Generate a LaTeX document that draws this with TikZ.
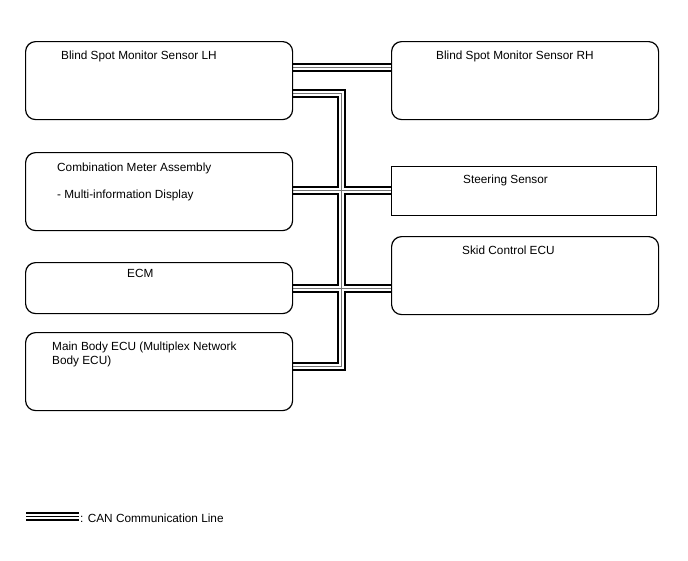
\documentclass[tikz,border=0pt]{standalone}
\usepackage{fontspec}
\setmainfont{Liberation Sans}
\usetikzlibrary{backgrounds}
\tikzset{
  x=1pt, y=-1pt,
  box/.style={draw=black, line width=1.2pt, fill=white, rounded corners=10pt, anchor=north west, inner sep=0pt},
  sqbox/.style={draw=black, line width=1.2pt, fill=white, anchor=north west, inner sep=0pt},
  lbl/.style={anchor=base west, inner sep=0pt, font=\fontsize{11.8}{14}\selectfont},
  canA/.style={draw=black, line width=9pt, line join=miter, line cap=butt},
  canB/.style={draw=white, line width=5pt, line join=miter, line cap=butt},
  canC/.style={draw=black!55, line width=1pt, line join=miter, line cap=butt},
}
\newcommand\canpaths[1]{%
  \draw[#1] (lh.east |- 0,67) -- (rh.west |- 0,67);
  \draw[#1] (lh.east |- 0,93) -| (bus |- 0,366) -- (mb.east |- 0,366);
  \draw[#1] (cm.east |- 0,190) -- (st.west |- 0,190);
  \draw[#1] (ecm.east |- 0,288) -- (sk.west |- 0,288);
}
\begin{document}
\begin{tikzpicture}
\useasboundingbox (0,0) rectangle (688,560);
\node[box, minimum width=267pt, minimum height=78pt] (lh) at (25,41) {};
\node[box, minimum width=267pt, minimum height=78pt] (rh) at (391,41) {};
\node[box, minimum width=267pt, minimum height=78pt] (cm) at (25,152) {};
\node[sqbox, minimum width=265pt, minimum height=49pt] (st) at (391,166) {};
\node[box, minimum width=267pt, minimum height=51pt] (ecm) at (25,262) {};
\node[box, minimum width=267pt, minimum height=78pt] (sk) at (391,236) {};
\node[box, minimum width=267pt, minimum height=78pt] (mb) at (25,332) {};
\coordinate (bus) at (341,0);

\node[lbl] (lhT) at (61,59.5) {Blind Spot Monitor Sensor LH};
\node[lbl] (rhT) at (436,59.5) {Blind Spot Monitor Sensor RH};
\node[lbl] (cmT) at (57,171) {Combination Meter Assembly};
\node[lbl] (cmT2) at (57,198.5) {- Multi-information Display};
\node[lbl] (stT) at (463,183.5) {Steering Sensor};
\node[lbl] (ecmT) at (127,277) {ECM};
\node[lbl] (skT) at (462,254) {Skid Control ECU};
\node[lbl] (mbT) at (52,350) {Main Body ECU (Multiplex Network};
\node[lbl] (mbT2) at (52,364.5) {Body ECU)};

\begin{pgfonlayer}{background}
  \fill[white] (0,0) rectangle (688,560);
  \canpaths{canA}
  \canpaths{canB}
  \canpaths{canC}
\end{pgfonlayer}

% legend
\coordinate (lgA) at (26,516.5);
\coordinate (lgB) at (79,516.5);
\draw[black, line width=9pt] (lgA) -- (lgB);
\draw[white, line width=5pt] (lgA) -- (lgB);
\draw[black, line width=1.5pt] (lgA) -- (lgB);
\node[lbl] (lgT) at (80,522) {: CAN Communication Line};
\end{tikzpicture}
\end{document}
